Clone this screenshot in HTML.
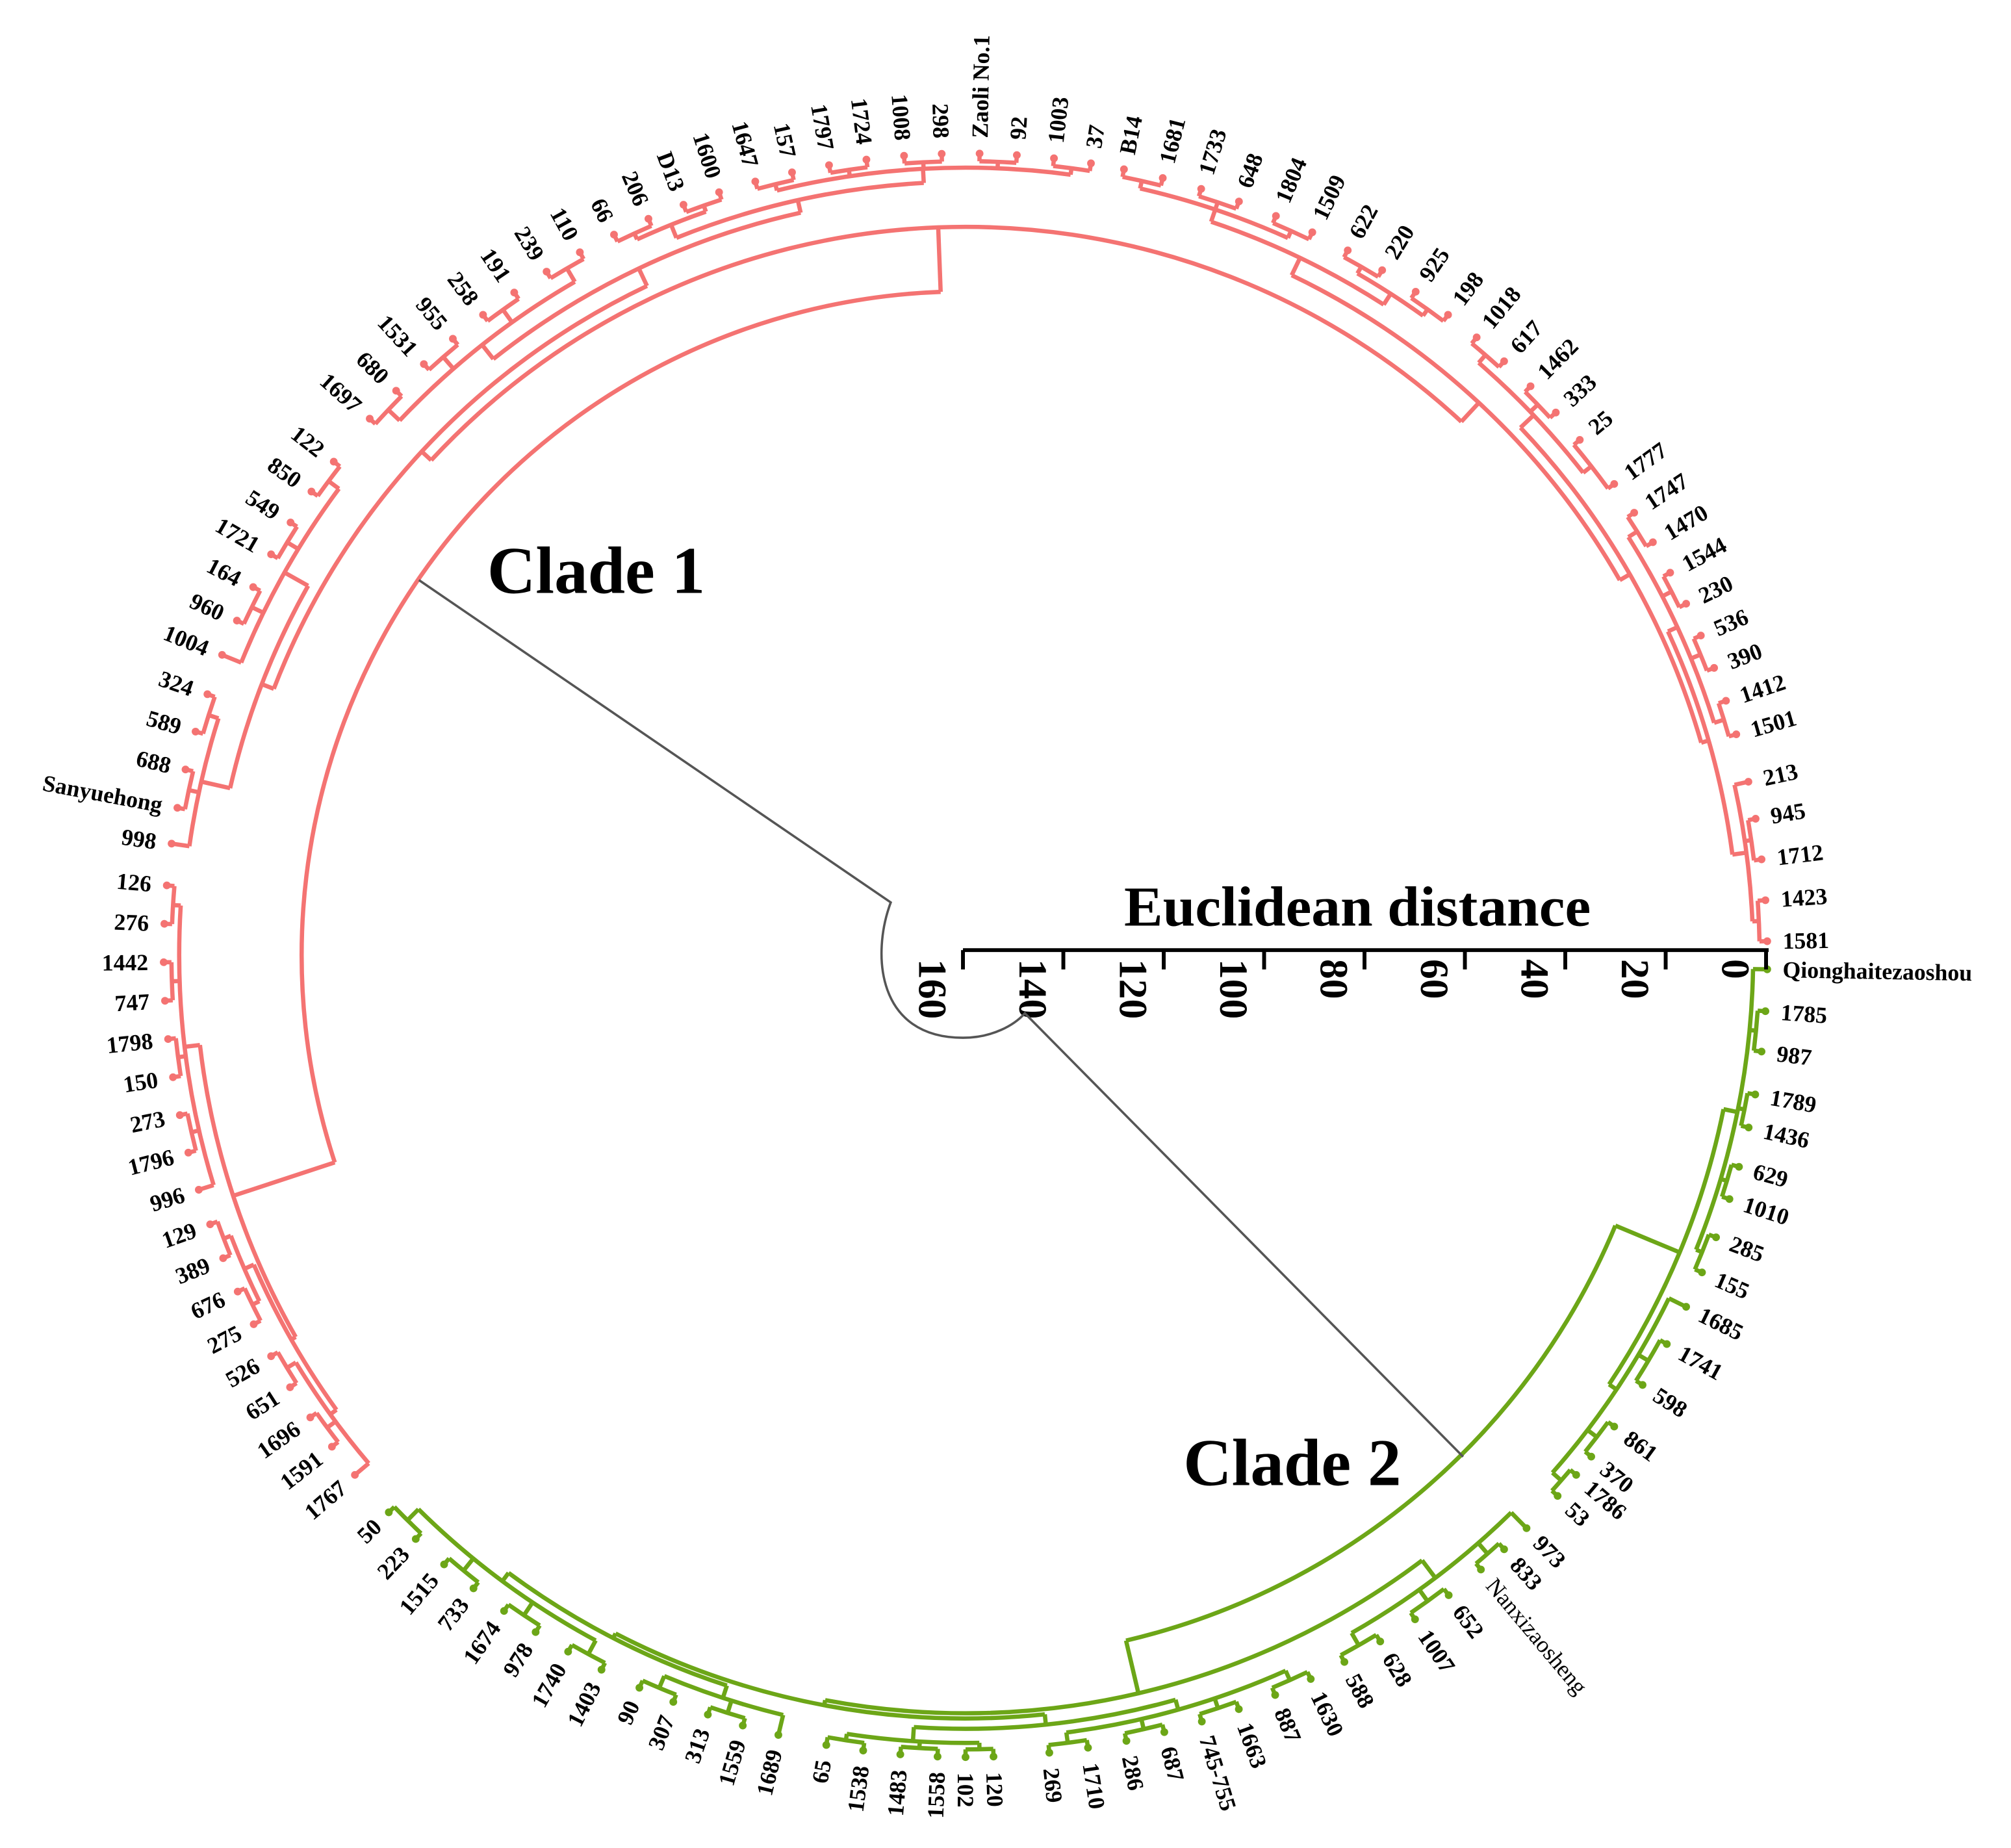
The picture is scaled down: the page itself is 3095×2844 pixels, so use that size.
<!DOCTYPE html>
<html><head><meta charset="utf-8"><style>
html,body{margin:0;padding:0;background:#fff;}
svg{display:block;}
text{font-family:"Liberation Serif",serif;fill:#000;}
</style></head><body>
<svg id="s" xmlns="http://www.w3.org/2000/svg" width="3095" height="2844" viewBox="0 0 1560 1433.5">
<rect width="1560" height="1434" fill="#fff"/>
<g id="tree" fill="none" stroke-linecap="butt"></g>
<g id="labels"></g>
<g id="scale" stroke="#000" stroke-width="3" fill="none">
<line x1="747" y1="737" x2="1372" y2="737"/>
</g>
<g id="ticks"></g>
<text x="872" y="718" font-size="44" font-weight="bold" textLength="362" lengthAdjust="spacingAndGlyphs">Euclidean distance</text>
<text x="378" y="460" font-size="52" font-weight="bold">Clade 1</text>
<text x="918" y="1152" font-size="52" font-weight="bold">Clade 2</text>
<path d="M325,450 L691,700 C676,740 680,805 747,805 C770,805 787,795 795,786 L1135,1130" fill="none" stroke="#555" stroke-width="1.8"/>
</svg>
<script>
(function(){
var NS="http://www.w3.org/2000/svg";
var cx=749, cy=741, RL=622;
function P(r,a){var t=a*Math.PI/180;return [cx+r*Math.cos(t), cy+r*Math.sin(t)];}
function interp(list){
  var n=list.length, ang=new Array(n);
  for(var i=0;i<n;i++) ang[i]=list[i][1];
  var i=0;
  while(i<n){
    if(ang[i]===null){
      var j=i; while(ang[j]===null) j++;
      var a0=ang[i-1], a1=ang[j];
      for(var k=i;k<j;k++) ang[k]=a0+(a1-a0)*(k-i+1)/(j-i+1);
      i=j;
    } else i++;
  }
  return ang;
}
var red=[["1581",-1],["1423",null],["1712",null],["945",-9.8],["213",-12.5],["1501",-16],["1412",null],["390",null],["536",null],["230",null],["1544",null],["1470",null],["1747",null],["1777",-36],["25",-40],["333",null],["1462",null],["617",null],["1018",null],["198",-53],["925",null],["220",null],["622",null],["1509",null],["1804",null],["648",null],["1733",null],["1681",null],["B14",-78.6],["37",-81],["1003",null],["92",null],["Zaoli No.1",-89],["298",null],["1008",null],["1724",null],["1797",null],["157",null],["1647",null],["1600",null],["D13",null],["206",null],["66",-116],["110",null],["239",null],["191",null],["258",null],["955",null],["1531",null],["680",null],["1697",-138],["122",-142],["850",null],["549",null],["1721",null],["164",null],["960",null],["1004",-158],["324",-161],["589",null],["688",null],["Sanyuehong",-169.4],["998",-172],["126",-175],["276",null],["1442",null],["747",null],["1798",null],["150",null],["273",null],["1796",null],["996",-197],["129",-199.6],["389",null],["676",null],["275",null],["526",null],["651",null],["1696",null],["1591",null],["1767",-220.4]];
var green=[["50",136],["223",null],["1515",null],["733",null],["1674",null],["978",null],["1740",null],["1403",117],["90",114],["307",null],["313",null],["1559",null],["1689",103.5],["65",100],["1538",null],["1483",null],["1558",92],["102",null],["120",88],["269",84],["1710",null],["286",null],["687",null],["745-755",null],["1663",null],["887",null],["1630",64.5],["588",61.8],["628",null],["1007",null],["652",null],["Nanxizaosheng",50],["833",null],["973",45.6],["53",42.4],["1786",40.4],["370",38.7],["861",36],["598",32.4],["1741",29],["1685",26],["155",23.3],["285",20.6],["1010",17.7],["629",15.3],["1436",12.4],["1789",10],["987",6.9],["1785",4],["Qionghaitezaoshou",1]];
var tree=document.getElementById("tree"), lab=document.getElementById("labels");
function el(tag,attrs,parent){var e=document.createElementNS(NS,tag);for(var k in attrs)e.setAttribute(k,attrs[k]);parent.appendChild(e);return e;}
function node(c,r){return {c:c,r:r};}
function L(i){return {leaf:i};}
function grp(a,b,r){var ch=[];for(var i=a;i<=b;i+=2){if(i+1<=b)ch.push(node([L(i),L(i+1)],616));else ch.push(L(i));}return node(ch,r);}
var SW=3.3;
function draw(n,ang,col){
  if(n.leaf!==undefined){
    var a=ang[n.leaf], p=P(RL,a);
    el("circle",{cx:p[0].toFixed(1),cy:p[1].toFixed(1),r:3,fill:col,stroke:"none"},tree);
    return {a:a,r:RL};
  }
  var res=n.c.map(function(c){return draw(c,ang,col);});
  var mn=Math.min.apply(null,res.map(function(x){return x.a;})), mx=Math.max.apply(null,res.map(function(x){return x.a;}));
  var p1=P(n.r,mn), p2=P(n.r,mx);
  el("path",{d:"M"+p1[0].toFixed(1)+","+p1[1].toFixed(1)+" A"+n.r+","+n.r+" 0 "+((mx-mn)>180?1:0)+",1 "+p2[0].toFixed(1)+","+p2[1].toFixed(1),stroke:col,"stroke-width":SW},tree);
  res.forEach(function(x){var q1=P(x.r,x.a),q2=P(n.r,x.a);el("line",{x1:q1[0].toFixed(1),y1:q1[1].toFixed(1),x2:q2[0].toFixed(1),y2:q2[1].toFixed(1),stroke:col,"stroke-width":SW},tree);});
  return {a:(mn+mx)/2,r:n.r};
}
var RA=interp(red), GA=interp(green);
var RC="#F47372", GC="#6CA617";
var R1a=node([grp(0,4,611),grp(5,12,608)],600);
var R1=node([R1a,grp(13,18,608)],594);
var R2=node([grp(19,22,610),grp(23,28,610)],600);
var R12=node([R1,R2],585);
var R3=node([node([grp(29,38,611),grp(39,42,611)],600),grp(43,50,604)],590);
var R4=node([grp(51,57,606),grp(58,62,608)],585);
var R34=node([R3,R4],575);
var T=node([R12,R34],565);
var LL=node([grp(63,71,610),node([grp(72,75,610),grp(76,80,608)],602)],598);
draw(node([T,LL],515),RA,RC);
var GR=node([grp(41,49,611),grp(34,40,607)],600);
var GM=grp(27,33,605);
var X1=node([grp(13,18,611),grp(19,26,608)],600);
var X2=node([grp(0,7,604),grp(8,12,606)],596);
var X=node([X2,X1],592);
var Y=node([GM,X],588);
draw(node([GR,Y],546),GA,GC);
function labels(list,ang){
  for(var i=0;i<list.length;i++){
    var nm=list[i][0], a=ang[i], p=P(634,a);
    var right=Math.cos(a*Math.PI/180)>=0;
    var rot=right?a:a+180;
    var plain=(nm=="Nanxizaosheng");
    var t=el("text",{x:p[0].toFixed(1),y:p[1].toFixed(1),"font-size":plain?18:18,"font-weight":plain?"normal":"bold","text-anchor":right?"start":"end","dominant-baseline":"central",transform:"rotate("+rot.toFixed(2)+" "+p[0].toFixed(1)+" "+p[1].toFixed(1)+")"},lab);
    t.textContent=nm;
  }
}
labels(red,RA); labels(green,GA);
var sc=document.getElementById("scale"), tk=document.getElementById("ticks");
var vals=[160,140,120,100,80,60,40,20,0];
for(var i=0;i<9;i++){
  var x=747+i*(1370-747)/8;
  el("line",{x1:x,y1:737,x2:x,y2:752},sc);
  var lx=x-34, ly=744;
  var t=el("text",{x:lx.toFixed(1),y:ly,"font-size":31,"font-weight":"bold",transform:"rotate(90 "+lx.toFixed(1)+" "+ly+")"},tk);
  t.textContent=String(vals[i]);
}
})();
</script>
</body></html>
